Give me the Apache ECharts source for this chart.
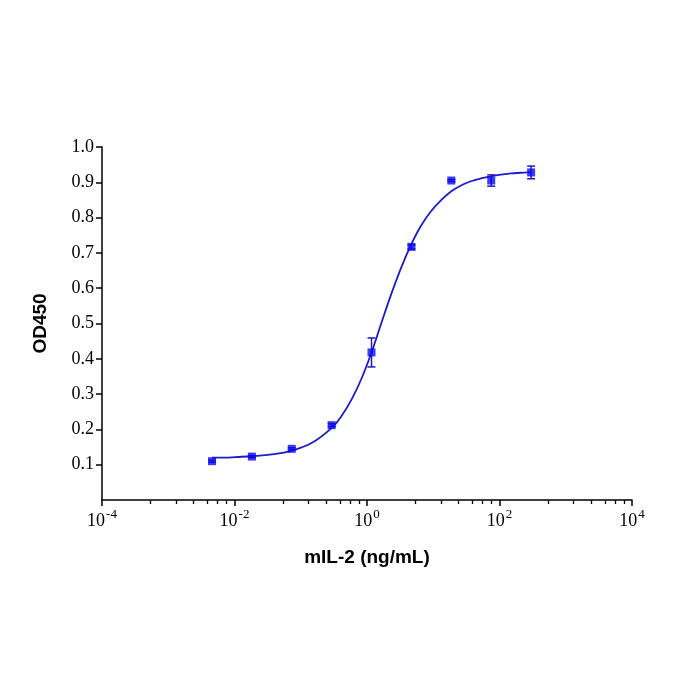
<!DOCTYPE html>
<html>
<head>
<meta charset="utf-8">
<script src="https://cdn.jsdelivr.net/npm/echarts@6/dist/echarts.min.js"></script>
<style>html,body{margin:0;padding:0;background:#fff}#c{width:700px;height:700px}</style>
</head>
<body>
<div id="c"></div>
<script>
// Data
const conc = [0.00458, 0.0183, 0.0732, 0.293, 1.17, 4.69, 18.75, 75, 300];
const od = [0.110, 0.123, 0.145, 0.212, 0.418, 0.717, 0.905, 0.905, 0.928];
const odErr = [0.003, 0.003, 0.003, 0.004, 0.041, 0.006, 0.003, 0.016, 0.018];
// Fitted curve
const curveX = [0.00458, 0.00916, 0.0183, 0.0368, 0.0738, 0.148, 0.296, 0.42, 0.594, 0.84, 1.15, 1.62, 2.3, 3.26, 4.6, 6.5, 9.25, 13.1, 18.5, 26.2, 37, 52.5, 74.5, 105, 149, 211, 300];
const curveY = [0.120, 0.121, 0.124, 0.129, 0.140, 0.162, 0.205, 0.240, 0.287, 0.347, 0.414, 0.497, 0.581, 0.657, 0.722, 0.776, 0.818, 0.849, 0.874, 0.891, 0.903, 0.911, 0.917, 0.922, 0.925, 0.927, 0.929];
// Axis ticks
const xMajorTicks = [1e-4, 1e-2, 1, 1e2, 1e4];
const xMinorFrac = [0.73, 1.12, 1.38, 1.59, 1.74, 1.88];
const yTicks = [0.1, 0.2, 0.3, 0.4, 0.5, 0.6, 0.7, 0.8, 0.9, 1.0];

const xMinorTicks = [];
[-4, -2, 0, 2].forEach(e => xMinorFrac.forEach(f => xMinorTicks.push(Math.pow(10, e + f))));

const pts = conc.map((c, i) => [c, od[i]]);
const errData = conc.map((c, i) => [c, od[i] - odErr[i], od[i] + odErr[i]]);
const curve = curveX.map((c, i) => [c, curveY[i]]);

const blue = '#0a0af0';
const lineBlue = '#1c1cc8';
const serif = '"Liberation Serif", "Times New Roman", serif';
const sans = '"Liberation Sans", Arial, sans-serif';

const chart = echarts.init(document.getElementById('c'));
chart.setOption({
  animation: false,
  backgroundColor: '#fff',
  grid: { left: 102, right: 68, top: 147, bottom: 200, containLabel: false },
  xAxis: [{
    type: 'log', logBase: 10, min: 1e-4, max: 1e4,
    name: 'mIL-2 (ng/mL)', nameLocation: 'middle', nameGap: 48,
    nameTextStyle: { fontFamily: sans, fontWeight: 'bold', fontSize: 19, color: '#000' },
    axisLine: { show: true, lineStyle: { color: '#000', width: 1.5 } },
    axisTick: { show: true, customValues: xMajorTicks, length: 6, lineStyle: { color: '#000', width: 1.5 } },
    splitLine: { show: false },
    minorTick: { show: false },
    axisLabel: {
      customValues: xMajorTicks, margin: 8, color: '#000',
      formatter: v => '{b|10}{s|' + Math.round(Math.log10(v)) + '}',
      rich: {
        b: { fontFamily: serif, fontSize: 18, color: '#000', lineHeight: 22, verticalAlign: 'bottom' },
        s: { fontFamily: serif, fontSize: 13, color: '#000', lineHeight: 22, verticalAlign: 'top', padding: [0, 0, 6, 1] }
      }
    }
  }, {
    type: 'log', logBase: 10, min: 1e-4, max: 1e4, position: 'bottom',
    axisLine: { show: false },
    axisTick: { show: true, customValues: xMinorTicks, length: 4, lineStyle: { color: '#000', width: 1.3 } },
    axisLabel: { show: false },
    splitLine: { show: false }
  }],
  yAxis: {
    type: 'value', min: 0, max: 1.0,
    name: 'OD450', nameLocation: 'middle', nameGap: 52, nameRotate: 90,
    nameTextStyle: { fontFamily: sans, fontWeight: 'bold', fontSize: 19, color: '#000' },
    axisLine: { show: true, lineStyle: { color: '#000', width: 1.5 } },
    axisTick: { show: true, customValues: yTicks, length: 6, lineStyle: { color: '#000', width: 1.5 } },
    splitLine: { show: false },
    axisLabel: {
      customValues: yTicks, margin: 8, color: '#000',
      fontFamily: serif, fontSize: 18,
      formatter: v => v.toFixed(1)
    }
  },
  series: [{
    type: 'line', data: curve, xAxisIndex: 0, smooth: 0.4, showSymbol: false,
    lineStyle: { color: lineBlue, width: 1.8 }, z: 2
  }, {
    type: 'custom', xAxisIndex: 0, data: errData, z: 3,
    renderItem: (params, api) => {
      const x = api.value(0);
      const lo = api.coord([x, api.value(1)]);
      const hi = api.coord([x, api.value(2)]);
      const w = 4;
      const st = { stroke: lineBlue, lineWidth: 1.5 };
      return { type: 'group', children: [
        { type: 'line', shape: { x1: lo[0], y1: lo[1], x2: hi[0], y2: hi[1] }, style: st },
        { type: 'line', shape: { x1: lo[0] - w, y1: lo[1], x2: lo[0] + w, y2: lo[1] }, style: st },
        { type: 'line', shape: { x1: hi[0] - w, y1: hi[1], x2: hi[0] + w, y2: hi[1] }, style: st }
      ]};
    }
  }, {
    type: 'scatter', data: pts, xAxisIndex: 0, symbol: 'rect', symbolSize: 8,
    itemStyle: { color: blue }, z: 4
  }]
});
</script>
</body>
</html>
